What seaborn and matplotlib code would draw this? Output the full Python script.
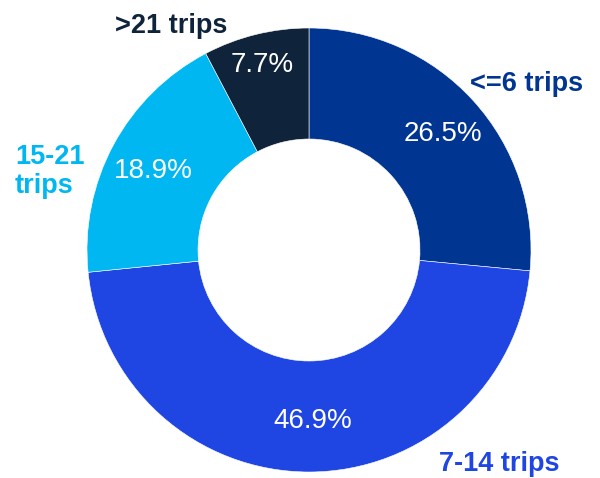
import matplotlib
matplotlib.use("Agg")
import matplotlib.pyplot as plt
import seaborn as sns

# data
categories = ["<=6 trips", "7-14 trips", "15-21 trips", ">21 trips"]
label_text = ["<=6 trips", "7-14 trips", "15-21\ntrips", ">21 trips"]
shares = [26.5, 46.9, 18.9, 7.7]
colors = ["#003591", "#1F46E2", "#00B7F1", "#0F233A"]

# label placement (data units, radius 1 = outer ring, y = baseline)
cat_pos = [(0.982, 0.716), (0.856, -0.995), (-1.324, 0.257), (-0.619, 0.977)]
cat_ha = ["center", "center", "left", "center"]
pct_pos = [(0.604, 0.491), (0.018, -0.802), (-0.703, 0.324), (-0.209, 0.802)]

sns.set_theme(style="white")
plt.rcParams["font.family"] = ["Liberation Sans", "DejaVu Sans"]

fig = plt.figure(figsize=(6, 4.78), dpi=100)
cx, cy, r = 309, 250, 222
ax = fig.add_axes([(cx - r) / 600, (478 - cy - r) / 478, 2 * r / 600, 2 * r / 478])

ax.pie(shares, colors=colors, startangle=90, counterclock=False,
       wedgeprops=dict(width=0.5, edgecolor="white", linewidth=0.4),
       radius=1)
ax.set_xlim(-1, 1)
ax.set_ylim(-1, 1)
ax.set_aspect("equal")
ax.axis("off")

for (x, y), v in zip(pct_pos, shares):
    ax.text(x, y, f"{v}%", ha="center", va="baseline", color="white", fontsize=20)

for (x, y), t, c, h in zip(cat_pos, label_text, colors, cat_ha):
    ax.text(x, y, t, ha=h, va="baseline", color=c, fontsize=19.5,
            fontweight="bold", linespacing=1.15, multialignment="left",
            clip_on=False)

fig.savefig("out.png", dpi=100)
